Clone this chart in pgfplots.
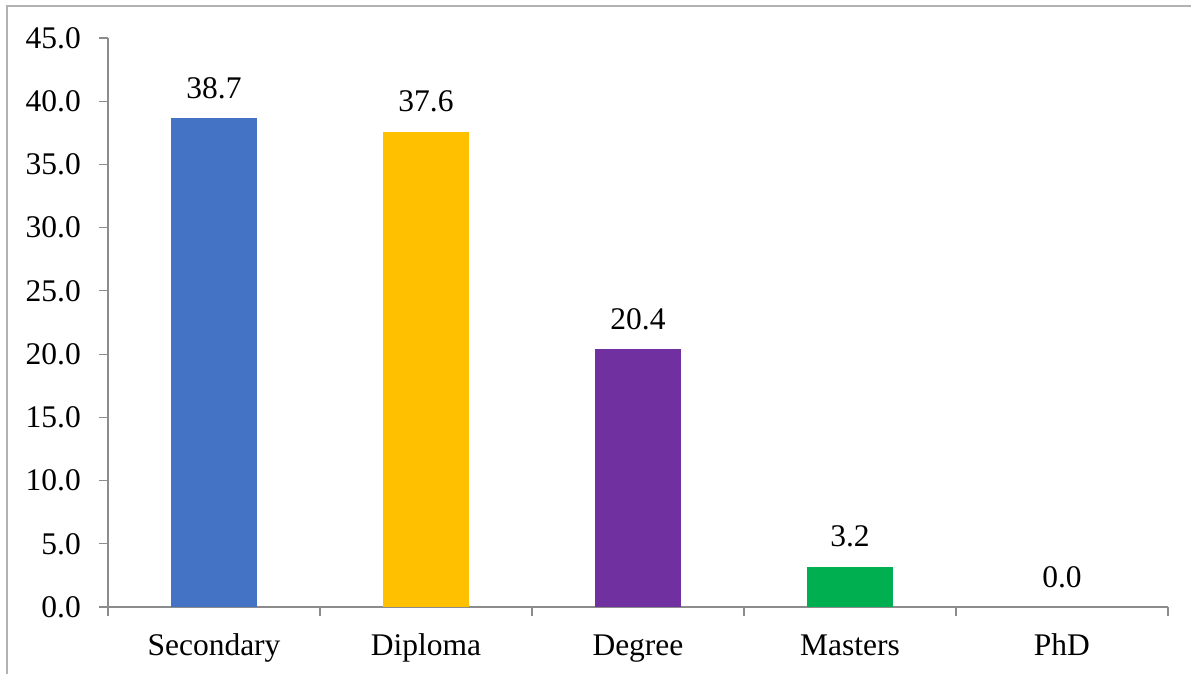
\documentclass[border=0pt]{standalone}
\usepackage{fontspec}
\setmainfont{Liberation Serif}
\usepackage{pgfplots}
\pgfplotsset{compat=1.18}
\definecolor{cblue}{HTML}{4472C4}
\definecolor{cyellow}{HTML}{FFC000}
\definecolor{cpurple}{HTML}{7030A0}
\definecolor{cgreen}{HTML}{00B050}
\definecolor{axgray}{HTML}{8C8C8C}
\begin{document}
\begin{tikzpicture}[x=1bp,y=1bp]
\useasboundingbox (0,0) rectangle (1191,674);
\draw[color=gray!60, line width=1.5bp] (7,-5) -- (7,668) -- (1200,668);
\begin{axis}[
  at={(108bp,67bp)}, anchor=south west,
  scale only axis, width=1060bp, height=569bp,
  xmin=-0.5, xmax=4.5, ymin=0, ymax=45,
  axis x line=bottom, axis y line=left,
  axis line style={-, axgray, line width=1.2bp},
  ytick={0,5,...,45},
  xtick={-0.5,0.5,...,4.5},
  x tick label as interval,
  xticklabels={Secondary,Diploma,Degree,Masters,PhD},
  tick align=outside, major tick length=9bp,
  tick style={axgray, line width=1.2bp},
  yticklabel={\pgfmathprintnumber[fixed,fixed zerofill,precision=1]{\tick}},
  /pgf/number format/assume math mode=true,
  tick label style={font=\fontsize{31.5bp}{38bp}\selectfont, inner sep=0pt},
  yticklabel style={anchor=east, xshift=-18bp},
  xticklabel style={anchor=base, yshift=-40bp},
  ybar, bar width=86bp, bar shift=0pt,
  nodes near coords,
  nodes near coords style={font=\fontsize{31.5bp}{38bp}\selectfont, inner sep=0pt, anchor=south, yshift=19bp,
    /pgf/number format/.cd, fixed, fixed zerofill, precision=1, assume math mode=true},
  clip=false,
]
\addplot[fill=cblue, draw=none] coordinates {(0,38.7)};
\addplot[fill=cyellow, draw=none] coordinates {(1,37.6)};
\addplot[fill=cpurple, draw=none] coordinates {(2,20.4)};
\addplot[fill=cgreen, draw=none] coordinates {(3,3.2)};
\addplot[fill=none, draw=none] coordinates {(4,0.0)};
\end{axis}
\end{tikzpicture}
\end{document}
